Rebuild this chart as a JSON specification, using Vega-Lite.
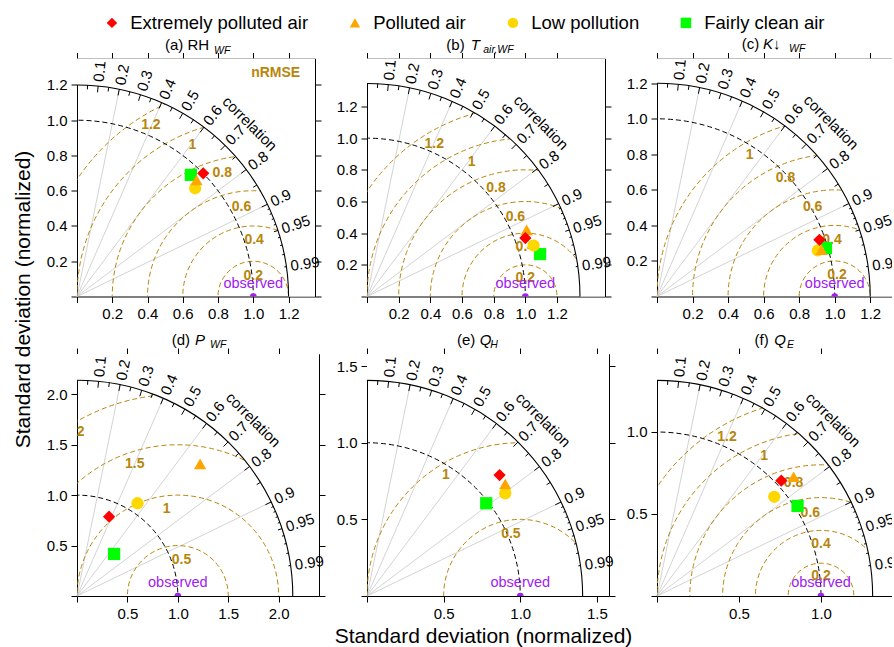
{
"$schema": "https://vega.github.io/schema/vega-lite/v6.json",
"padding": {"left": 11, "top": 13.5, "right": 0, "bottom": 0},
"datasets": {
"rays": [{"x0":0,"y0":0,"x1":0.2,"y1":0.9798},{"x0":0,"y0":0,"x1":0.4,"y1":0.9165},{"x0":0,"y0":0,"x1":0.6,"y1":0.8},{"x0":0,"y0":0,"x1":0.8,"y1":0.6},{"x0":0,"y0":0,"x1":0.9,"y1":0.4359}],
"ticks": [
{"x0":0.097,"y0":0.9651,"x1":0.1,"y1":0.995},{"x0":0.194,"y0":0.9504,"x1":0.2,"y1":0.9798},{"x0":0.291,"y0":0.9253,"x1":0.3,"y1":0.9539},{"x0":0.388,"y0":0.889,"x1":0.4,"y1":0.9165},{"x0":0.485,"y0":0.84,"x1":0.5,"y1":0.866},{"x0":0.582,"y0":0.776,"x1":0.6,"y1":0.8},{"x0":0.679,"y0":0.6927,"x1":0.7,"y1":0.7141},{"x0":0.776,"y0":0.582,"x1":0.8,"y1":0.6},{"x0":0.873,"y0":0.4228,"x1":0.9,"y1":0.4359},
{"x0":0.049,"y0":0.9788,"x1":0.05,"y1":0.9988},{"x0":0.147,"y0":0.9689,"x1":0.15,"y1":0.9887},{"x0":0.245,"y0":0.9489,"x1":0.25,"y1":0.9682},{"x0":0.343,"y0":0.918,"x1":0.35,"y1":0.9368},{"x0":0.441,"y0":0.8752,"x1":0.45,"y1":0.893},{"x0":0.539,"y0":0.8185,"x1":0.55,"y1":0.8352},{"x0":0.637,"y0":0.7447,"x1":0.65,"y1":0.7599},{"x0":0.735,"y0":0.6482,"x1":0.75,"y1":0.6614},{"x0":0.833,"y0":0.5162,"x1":0.85,"y1":0.5268},{"x0":0.931,"y0":0.306,"x1":0.95,"y1":0.3122},
{"x0":0.9009,"y0":0.4105,"x1":0.91,"y1":0.4146},{"x0":0.9108,"y0":0.388,"x1":0.92,"y1":0.3919},{"x0":0.9207,"y0":0.3639,"x1":0.93,"y1":0.3676},{"x0":0.9306,"y0":0.3378,"x1":0.94,"y1":0.3412},{"x0":0.9504,"y0":0.2772,"x1":0.96,"y1":0.28},{"x0":0.9603,"y0":0.2407,"x1":0.97,"y1":0.2431},{"x0":0.9702,"y0":0.197,"x1":0.98,"y1":0.199},{"x0":0.9801,"y0":0.1397,"x1":0.99,"y1":0.1411}
],
"clabs": [
{"x":0.102,"y":1.0149,"phi":84.26,"t":"0.1"},{"x":0.204,"y":0.9994,"phi":78.46,"t":"0.2"},{"x":0.306,"y":0.973,"phi":72.54,"t":"0.3"},{"x":0.408,"y":0.9349,"phi":66.42,"t":"0.4"},{"x":0.51,"y":0.8833,"phi":60,"t":"0.5"},{"x":0.612,"y":0.816,"phi":53.13,"t":"0.6"},{"x":0.714,"y":0.7284,"phi":45.57,"t":"0.7"},{"x":0.816,"y":0.612,"phi":36.87,"t":"0.8"},{"x":0.918,"y":0.4446,"phi":25.84,"t":"0.9"},{"x":0.969,"y":0.3185,"phi":18.19,"t":"0.95"},{"x":1.0098,"y":0.1439,"phi":8.11,"t":"0.99"}
],
"corr": [{"x":0.8167,"y":0.8167,"t":"correlation"}],
"bnd": [{"p":"a","M":1.2,"Mm":3.1853},{"p":"b","M":1.345,"Mm":3.5553},{"p":"c","M":1.2,"Mm":3.1697},{"p":"d","M":2.14,"Mm":5.6111},{"p":"e","M":1.407,"Mm":3.6907},{"p":"f","M":1.315,"Mm":3.4491}],
"circ": [
{"p":"a","rho":0.2},{"p":"a","rho":0.4},{"p":"a","rho":0.6},{"p":"a","rho":0.8},{"p":"a","rho":1.0},{"p":"a","rho":1.2},
{"p":"b","rho":0.2},{"p":"b","rho":0.4},{"p":"b","rho":0.6},{"p":"b","rho":0.8},{"p":"b","rho":1.0},{"p":"b","rho":1.2},
{"p":"c","rho":0.2},{"p":"c","rho":0.4},{"p":"c","rho":0.6},{"p":"c","rho":0.8},{"p":"c","rho":1.0},
{"p":"d","rho":0.5},{"p":"d","rho":1.0},{"p":"d","rho":1.5},{"p":"d","rho":2.0},
{"p":"e","rho":0.5},{"p":"e","rho":1.0},
{"p":"f","rho":0.2},{"p":"f","rho":0.4},{"p":"f","rho":0.6},{"p":"f","rho":0.8},{"p":"f","rho":1.0},{"p":"f","rho":1.2}
],
"nlab": [
{"p":"a","lab":"nRMSE","x":1.127,"y":1.269},
{"p":"a","lab":"1.2","x":0.419,"y":0.973},{"p":"a","lab":"1","x":0.655,"y":0.859},{"p":"a","lab":"0.8","x":0.824,"y":0.70},{"p":"a","lab":"0.6","x":0.933,"y":0.51},{"p":"a","lab":"0.4","x":1.005,"y":0.321},{"p":"a","lab":"0.2","x":1.0,"y":0.117},
{"p":"b","lab":"1.2","x":0.425,"y":0.965},{"p":"b","lab":"1","x":0.661,"y":0.849},{"p":"b","lab":"0.8","x":0.815,"y":0.685},{"p":"b","lab":"0.6","x":0.937,"y":0.502},{"p":"b","lab":"0.4","x":1.0,"y":0.31},{"p":"b","lab":"0.2","x":1.0,"y":0.116},
{"p":"c","lab":"1","x":0.522,"y":0.797},{"p":"c","lab":"0.8","x":0.723,"y":0.666},{"p":"c","lab":"0.6","x":0.876,"y":0.503},{"p":"c","lab":"0.4","x":0.985,"y":0.319},{"p":"c","lab":"0.2","x":1.013,"y":0.122},
{"p":"d","lab":"0.5","x":1.037,"y":0.357},{"p":"d","lab":"1","x":0.888,"y":0.863},{"p":"d","lab":"1.5","x":0.573,"y":1.31},{"p":"d","lab":"2","x":0.037,"y":1.624},
{"p":"e","lab":"0.5","x":0.939,"y":0.402},{"p":"e","lab":"1","x":0.515,"y":0.789},
{"p":"f","lab":"1.2","x":0.427,"y":0.968},{"p":"f","lab":"1","x":0.654,"y":0.854},{"p":"f","lab":"0.8","x":0.833,"y":0.687},{"p":"f","lab":"0.6","x":0.935,"y":0.508},{"p":"f","lab":"0.4","x":1.0,"y":0.317},{"p":"f","lab":"0.2","x":1.0,"y":0.122}
],
"pts": [
{"p":"a","c":"Fairly clean air","x":0.646,"y":0.690},{"p":"a","c":"Low pollution","x":0.670,"y":0.614},{"p":"a","c":"Polluted air","x":0.678,"y":0.661},{"p":"a","c":"Extremely polluted air","x":0.716,"y":0.699},
{"p":"b","c":"Fairly clean air","x":1.093,"y":0.268},{"p":"b","c":"Low pollution","x":1.052,"y":0.322},{"p":"b","c":"Polluted air","x":1.008,"y":0.421},{"p":"b","c":"Extremely polluted air","x":1.0,"y":0.369},
{"p":"c","c":"Fairly clean air","x":0.951,"y":0.272},{"p":"c","c":"Low pollution","x":0.905,"y":0.259},{"p":"c","c":"Polluted air","x":0.925,"y":0.263},{"p":"c","c":"Extremely polluted air","x":0.914,"y":0.319},
{"p":"d","c":"Fairly clean air","x":0.368,"y":0.417},{"p":"d","c":"Low pollution","x":0.600,"y":0.920},{"p":"d","c":"Polluted air","x":1.221,"y":1.310},{"p":"d","c":"Extremely polluted air","x":0.318,"y":0.787},
{"p":"e","c":"Fairly clean air","x":0.778,"y":0.605},{"p":"e","c":"Low pollution","x":0.902,"y":0.670},{"p":"e","c":"Polluted air","x":0.902,"y":0.731},{"p":"e","c":"Extremely polluted air","x":0.865,"y":0.789},
{"p":"f","c":"Fairly clean air","x":0.857,"y":0.549},{"p":"f","c":"Low pollution","x":0.715,"y":0.605},{"p":"f","c":"Polluted air","x":0.833,"y":0.727},{"p":"f","c":"Extremely polluted air","x":0.758,"y":0.703}
],
"titles": [
{"p":"a","part":"pre","t":"(a) RH","x":0.499,"y":1.401},
{"p":"a","part":"sub","t":"WF","x":0.777,"y":1.375},
{"p":"b","part":"pre","t":"(b)","x":0.501,"y":1.557},
{"p":"b","part":"sym","t":"T","x":0.655,"y":1.557},
{"p":"b","part":"sub","t":"air,WF","x":0.734,"y":1.535},
{"p":"c","part":"pre","t":"(c)","x":0.477,"y":1.390},
{"p":"c","part":"sym","t":"K↓","x":0.597,"y":1.390},
{"p":"c","part":"sub","t":"WF","x":0.743,"y":1.373},
{"p":"d","part":"pre","t":"(d)","x":0.939,"y":2.490},
{"p":"d","part":"sym","t":"P","x":1.171,"y":2.490},
{"p":"d","part":"sub","t":"WF","x":1.319,"y":2.460},
{"p":"e","part":"pre","t":"(e)","x":0.587,"y":1.637},
{"p":"e","part":"sym","t":"Q","x":0.735,"y":1.637},
{"p":"e","part":"sub","t":"H","x":0.804,"y":1.618},
{"p":"f","part":"pre","t":"(f)","x":0.595,"y":1.530},
{"p":"f","part":"sym","t":"Q","x":0.715,"y":1.530},
{"p":"f","part":"sub","t":"E","x":0.793,"y":1.512}
]
},
"concat": [
{"width": 238, "height": 238,
 "resolve": {"scale": {"x": "independent", "y": "independent"}, "axis": {"x": "independent", "y": "independent"}},
 "layer": [
  {"data": {"name": "rays"}, "mark": {"type": "rule", "color": "#c8c8c8", "strokeWidth": 0.8},
   "encoding": {"x": {"field": "x0", "type": "quantitative", "scale": {"domain": [0, 1.125], "nice": false, "zero": false}, "axis": null},
    "y": {"field": "y0", "type": "quantitative", "scale": {"domain": [0, 1.125], "nice": false, "zero": false}, "axis": null},
    "x2": {"field": "x1"}, "y2": {"field": "y1"}}},
  {"data": {"name": "circ"}, "transform": [{"filter": "datum.p == 'a'"}], "mark": {"type": "point", "shape": "circle", "filled": false, "color": "#B8860B", "strokeWidth": 1, "strokeDash": [5, 3], "opacity": 1, "clip": true},
   "encoding": {"x": {"datum": 1, "type": "quantitative", "scale": {"domain": [0, 1.35], "nice": false, "zero": false}, "axis": null},
    "y": {"datum": 0, "type": "quantitative", "scale": {"domain": [0, 1.35], "nice": false, "zero": false}, "axis": null},
    "size": {"field": "rho", "type": "quantitative", "scale": {"type": "pow", "exponent": 2, "domain": [0, 1.35], "range": [0, 226576]}, "legend": null}}},
  {"data": {"values": [{"rho": 1}]}, "mark": {"type": "point", "shape": "circle", "filled": false, "color": "black", "strokeWidth": 1, "strokeDash": [5, 3], "opacity": 1, "clip": true},
   "encoding": {"x": {"datum": 0, "type": "quantitative", "scale": {"domain": [0, 1.35], "nice": false, "zero": false}, "axis": null},
    "y": {"datum": 0, "type": "quantitative", "scale": {"domain": [0, 1.35], "nice": false, "zero": false}, "axis": null},
    "size": {"field": "rho", "type": "quantitative", "legend": null}}},
  {"data": {"name": "bnd"}, "transform": [{"filter": "datum.p == 'a'"}], "mark": {"type": "point", "shape": "circle", "filled": false, "color": "white", "strokeWidth": 700, "opacity": 1, "clip": true},
   "encoding": {"x": {"datum": 0, "type": "quantitative", "scale": {"domain": [0, 1.35], "nice": false, "zero": false}, "axis": null},
    "y": {"datum": 0, "type": "quantitative", "scale": {"domain": [0, 1.35], "nice": false, "zero": false}, "axis": null},
    "size": {"field": "Mm", "type": "quantitative", "legend": null}}},
  {"data": {"name": "bnd"}, "transform": [{"filter": "datum.p == 'a'"}], "mark": {"type": "point", "shape": "circle", "filled": false, "color": "black", "strokeWidth": 1.1, "opacity": 1, "clip": true},
   "encoding": {"x": {"datum": 0, "type": "quantitative", "scale": {"domain": [0, 1.35], "nice": false, "zero": false}, "axis": null},
    "y": {"datum": 0, "type": "quantitative", "scale": {"domain": [0, 1.35], "nice": false, "zero": false}, "axis": null},
    "size": {"field": "M", "type": "quantitative", "legend": null}}},
  {"data": {"name": "ticks"}, "mark": {"type": "rule", "color": "black", "strokeWidth": 1},
   "encoding": {"x": {"field": "x0", "type": "quantitative", "scale": {"domain": [0, 1.125], "nice": false, "zero": false}, "axis": null},
    "y": {"field": "y0", "type": "quantitative", "scale": {"domain": [0, 1.125], "nice": false, "zero": false}, "axis": null},
    "x2": {"field": "x1"}, "y2": {"field": "y1"}}},
  {"data": {"name": "clabs"}, "mark": {"type": "text", "align": "left", "baseline": "middle", "fontSize": 15, "color": "black"},
   "encoding": {"x": {"field": "x", "type": "quantitative", "scale": {"domain": [0, 1.125], "nice": false, "zero": false}, "axis": null},
    "y": {"field": "y", "type": "quantitative", "scale": {"domain": [0, 1.125], "nice": false, "zero": false}, "axis": null},
    "angle": {"field": "phi", "type": "quantitative", "scale": {"domain": [0, 90], "range": [0, -90]}},
    "text": {"field": "t"}}},
  {"data": {"name": "corr"}, "mark": {"type": "text", "align": "center", "baseline": "middle", "fontSize": 15, "angle": 45, "color": "black"},
   "encoding": {"x": {"field": "x", "type": "quantitative", "scale": {"domain": [0, 1.125], "nice": false, "zero": false}, "axis": null},
    "y": {"field": "y", "type": "quantitative", "scale": {"domain": [0, 1.125], "nice": false, "zero": false}, "axis": null},
    "text": {"field": "t"}}},
  {"data": {"name": "nlab"}, "transform": [{"filter": "datum.p == 'a'"}], "mark": {"type": "text", "align": "center", "baseline": "middle", "fontSize": 14, "fontWeight": "bold", "color": "#B8860B"},
   "encoding": {"x": {"field": "x", "type": "quantitative", "scale": {"domain": [0, 1.35], "nice": false, "zero": false}, "axis": null},
    "y": {"field": "y", "type": "quantitative", "scale": {"domain": [0, 1.35], "nice": false, "zero": false}, "axis": null}, "text": {"field": "lab"}}},
  {"data": {"values": [{"t": "observed"}]}, "mark": {"type": "circle", "color": "#A020F0", "size": 45, "opacity": 1, "clip": true},
   "encoding": {"x": {"datum": 1, "type": "quantitative", "scale": {"domain": [0, 1.35], "nice": false, "zero": false}, "axis": null},
    "y": {"datum": 0, "type": "quantitative", "scale": {"domain": [0, 1.35], "nice": false, "zero": false}, "axis": null}}},
  {"data": {"values": [{"t": "observed"}]}, "mark": {"type": "text", "color": "#A020F0", "fontSize": 14.5, "dy": -13, "align": "center", "baseline": "middle"},
   "encoding": {"x": {"datum": 1, "type": "quantitative", "scale": {"domain": [0, 1.35], "nice": false, "zero": false}, "axis": null},
    "y": {"datum": 0, "type": "quantitative", "scale": {"domain": [0, 1.35], "nice": false, "zero": false}, "axis": null}, "text": {"field": "t"}}},
  {"data": {"name": "pts"}, "transform": [{"filter": "datum.p == 'a'"}], "mark": {"type": "point", "filled": true, "size": 150, "opacity": 1, "strokeWidth": 0},
   "encoding": {"x": {"field": "x", "type": "quantitative", "scale": {"domain": [0, 1.35], "nice": false, "zero": false}, "axis": {"orient": "bottom", "title": null, "values": [0,0.2,0.4,0.6,0.8,1,1.2], "labelExpr": "datum.value == 0 ? '' : format(datum.value, '.1f')"}},
    "y": {"field": "y", "type": "quantitative", "scale": {"domain": [0, 1.35], "nice": false, "zero": false}, "axis": {"orient": "left", "title": null, "values": [0,0.2,0.4,0.6,0.8,1,1.2], "labelExpr": "datum.value == 0 ? '' : format(datum.value, '.1f')"}},
    "color": {"field": "c", "type": "nominal", "scale": {"domain": ["Extremely polluted air", "Polluted air", "Low pollution", "Fairly clean air"], "range": ["#FF0000", "#FFA500", "#FFD700", "#00FF00"]},
      "legend": {"orient": "none", "legendX": 25.7, "legendY": -45, "direction": "horizontal", "title": null, "columnPadding": 37, "labelFontSize": 18.5, "labelFont": "Liberation Sans", "labelColor": "black", "labelLimit": 400, "symbolSize": 110, "symbolStrokeWidth": 0, "labelOffset": 9, "padding": 0,
        "labelExpr": "datum.label == 'Extremely polluted air' ? datum.label + '         ' : (datum.label == 'Low pollution' ? datum.label + ' ' : datum.label)"}},
    "shape": {"field": "c", "type": "nominal", "scale": {"domain": ["Extremely polluted air", "Polluted air", "Low pollution", "Fairly clean air"], "range": ["diamond", "triangle-up", "circle", "square"]},
      "legend": {"orient": "none", "legendX": 25.7, "legendY": -45, "direction": "horizontal", "title": null, "columnPadding": 37, "labelFontSize": 18.5, "labelFont": "Liberation Sans", "labelColor": "black", "labelLimit": 400, "symbolSize": 110, "symbolStrokeWidth": 0, "labelOffset": 9, "padding": 0,
        "labelExpr": "datum.label == 'Extremely polluted air' ? datum.label + '         ' : (datum.label == 'Low pollution' ? datum.label + ' ' : datum.label)"}}}},
  {"data": {"name": "titles"}, "transform": [{"filter": "datum.p == 'a' && datum.part == 'pre'"}], "mark": {"type": "text", "align": "left", "baseline": "alphabetic", "fontSize": 15, "color": "black"},
   "encoding": {"x": {"field": "x", "type": "quantitative", "scale": {"domain": [0, 1.35], "nice": false, "zero": false}, "axis": {"orient": "top", "labels": false, "title": null, "values": [0,0.2,0.4,0.6,0.8,1,1.2]}},
    "y": {"field": "y", "type": "quantitative", "scale": {"domain": [0, 1.35], "nice": false, "zero": false}, "axis": {"orient": "right", "labels": false, "title": null, "values": [0,0.2,0.4,0.6,0.8,1,1.2]}}, "text": {"field": "t"}}},
  {"data": {"name": "titles"}, "transform": [{"filter": "datum.p == 'a' && datum.part == 'sub'"}], "mark": {"type": "text", "align": "left", "baseline": "alphabetic", "fontSize": 10.5, "fontStyle": "italic", "color": "black"},
   "encoding": {"x": {"field": "x", "type": "quantitative", "scale": {"domain": [0, 1.35], "nice": false, "zero": false}, "axis": null},
    "y": {"field": "y", "type": "quantitative", "scale": {"domain": [0, 1.35], "nice": false, "zero": false}, "axis": null}, "text": {"field": "t"}}}
 ]},
{"width": 238, "height": 238,
 "resolve": {"scale": {"x": "independent", "y": "independent"}, "axis": {"x": "independent", "y": "independent"}},
 "layer": [
  {"data": {"name": "rays"}, "mark": {"type": "rule", "color": "#c8c8c8", "strokeWidth": 0.8},
   "encoding": {"x": {"field": "x0", "type": "quantitative", "scale": {"domain": [0, 1.1175], "nice": false, "zero": false}, "axis": null},
    "y": {"field": "y0", "type": "quantitative", "scale": {"domain": [0, 1.1175], "nice": false, "zero": false}, "axis": null},
    "x2": {"field": "x1"}, "y2": {"field": "y1"}}},
  {"data": {"name": "circ"}, "transform": [{"filter": "datum.p == 'b'"}], "mark": {"type": "point", "shape": "circle", "filled": false, "color": "#B8860B", "strokeWidth": 1, "strokeDash": [5, 3], "opacity": 1, "clip": true},
   "encoding": {"x": {"datum": 1, "type": "quantitative", "scale": {"domain": [0, 1.503], "nice": false, "zero": false}, "axis": null},
    "y": {"datum": 0, "type": "quantitative", "scale": {"domain": [0, 1.503], "nice": false, "zero": false}, "axis": null},
    "size": {"field": "rho", "type": "quantitative", "scale": {"type": "pow", "exponent": 2, "domain": [0, 1.503], "range": [0, 226576]}, "legend": null}}},
  {"data": {"values": [{"rho": 1}]}, "mark": {"type": "point", "shape": "circle", "filled": false, "color": "black", "strokeWidth": 1, "strokeDash": [5, 3], "opacity": 1, "clip": true},
   "encoding": {"x": {"datum": 0, "type": "quantitative", "scale": {"domain": [0, 1.503], "nice": false, "zero": false}, "axis": null},
    "y": {"datum": 0, "type": "quantitative", "scale": {"domain": [0, 1.503], "nice": false, "zero": false}, "axis": null},
    "size": {"field": "rho", "type": "quantitative", "legend": null}}},
  {"data": {"name": "bnd"}, "transform": [{"filter": "datum.p == 'b'"}], "mark": {"type": "point", "shape": "circle", "filled": false, "color": "white", "strokeWidth": 700, "opacity": 1, "clip": true},
   "encoding": {"x": {"datum": 0, "type": "quantitative", "scale": {"domain": [0, 1.503], "nice": false, "zero": false}, "axis": null},
    "y": {"datum": 0, "type": "quantitative", "scale": {"domain": [0, 1.503], "nice": false, "zero": false}, "axis": null},
    "size": {"field": "Mm", "type": "quantitative", "legend": null}}},
  {"data": {"name": "bnd"}, "transform": [{"filter": "datum.p == 'b'"}], "mark": {"type": "point", "shape": "circle", "filled": false, "color": "black", "strokeWidth": 1.1, "opacity": 1, "clip": true},
   "encoding": {"x": {"datum": 0, "type": "quantitative", "scale": {"domain": [0, 1.503], "nice": false, "zero": false}, "axis": null},
    "y": {"datum": 0, "type": "quantitative", "scale": {"domain": [0, 1.503], "nice": false, "zero": false}, "axis": null},
    "size": {"field": "M", "type": "quantitative", "legend": null}}},
  {"data": {"name": "ticks"}, "mark": {"type": "rule", "color": "black", "strokeWidth": 1},
   "encoding": {"x": {"field": "x0", "type": "quantitative", "scale": {"domain": [0, 1.1175], "nice": false, "zero": false}, "axis": null},
    "y": {"field": "y0", "type": "quantitative", "scale": {"domain": [0, 1.1175], "nice": false, "zero": false}, "axis": null},
    "x2": {"field": "x1"}, "y2": {"field": "y1"}}},
  {"data": {"name": "clabs"}, "mark": {"type": "text", "align": "left", "baseline": "middle", "fontSize": 15, "color": "black"},
   "encoding": {"x": {"field": "x", "type": "quantitative", "scale": {"domain": [0, 1.1175], "nice": false, "zero": false}, "axis": null},
    "y": {"field": "y", "type": "quantitative", "scale": {"domain": [0, 1.1175], "nice": false, "zero": false}, "axis": null},
    "angle": {"field": "phi", "type": "quantitative", "scale": {"domain": [0, 90], "range": [0, -90]}},
    "text": {"field": "t"}}},
  {"data": {"name": "corr"}, "mark": {"type": "text", "align": "center", "baseline": "middle", "fontSize": 15, "angle": 45, "color": "black"},
   "encoding": {"x": {"field": "x", "type": "quantitative", "scale": {"domain": [0, 1.1175], "nice": false, "zero": false}, "axis": null},
    "y": {"field": "y", "type": "quantitative", "scale": {"domain": [0, 1.1175], "nice": false, "zero": false}, "axis": null},
    "text": {"field": "t"}}},
  {"data": {"name": "nlab"}, "transform": [{"filter": "datum.p == 'b'"}], "mark": {"type": "text", "align": "center", "baseline": "middle", "fontSize": 14, "fontWeight": "bold", "color": "#B8860B"},
   "encoding": {"x": {"field": "x", "type": "quantitative", "scale": {"domain": [0, 1.503], "nice": false, "zero": false}, "axis": null},
    "y": {"field": "y", "type": "quantitative", "scale": {"domain": [0, 1.503], "nice": false, "zero": false}, "axis": null}, "text": {"field": "lab"}}},
  {"data": {"values": [{"t": "observed"}]}, "mark": {"type": "circle", "color": "#A020F0", "size": 45, "opacity": 1, "clip": true},
   "encoding": {"x": {"datum": 1, "type": "quantitative", "scale": {"domain": [0, 1.503], "nice": false, "zero": false}, "axis": null},
    "y": {"datum": 0, "type": "quantitative", "scale": {"domain": [0, 1.503], "nice": false, "zero": false}, "axis": null}}},
  {"data": {"values": [{"t": "observed"}]}, "mark": {"type": "text", "color": "#A020F0", "fontSize": 14.5, "dy": -13, "align": "center", "baseline": "middle"},
   "encoding": {"x": {"datum": 1, "type": "quantitative", "scale": {"domain": [0, 1.503], "nice": false, "zero": false}, "axis": null},
    "y": {"datum": 0, "type": "quantitative", "scale": {"domain": [0, 1.503], "nice": false, "zero": false}, "axis": null}, "text": {"field": "t"}}},
  {"data": {"name": "pts"}, "transform": [{"filter": "datum.p == 'b'"}], "mark": {"type": "point", "filled": true, "size": 150, "opacity": 1, "strokeWidth": 0},
   "encoding": {"x": {"field": "x", "type": "quantitative", "scale": {"domain": [0, 1.503], "nice": false, "zero": false}, "axis": {"orient": "bottom", "title": null, "values": [0,0.2,0.4,0.6,0.8,1,1.2], "labelExpr": "datum.value == 0 ? '' : format(datum.value, '.1f')"}},
    "y": {"field": "y", "type": "quantitative", "scale": {"domain": [0, 1.503], "nice": false, "zero": false}, "axis": {"orient": "left", "title": null, "values": [0,0.2,0.4,0.6,0.8,1,1.2], "labelExpr": "datum.value == 0 ? '' : format(datum.value, '.1f')"}},
    "color": {"field": "c", "type": "nominal", "scale": {"domain": ["Extremely polluted air", "Polluted air", "Low pollution", "Fairly clean air"], "range": ["#FF0000", "#FFA500", "#FFD700", "#00FF00"]}, "legend": null},
    "shape": {"field": "c", "type": "nominal", "scale": {"domain": ["Extremely polluted air", "Polluted air", "Low pollution", "Fairly clean air"], "range": ["diamond", "triangle-up", "circle", "square"]}, "legend": null}}},
  {"data": {"name": "titles"}, "transform": [{"filter": "datum.p == 'b' && datum.part == 'pre'"}], "mark": {"type": "text", "align": "left", "baseline": "alphabetic", "fontSize": 15, "color": "black"},
   "encoding": {"x": {"field": "x", "type": "quantitative", "scale": {"domain": [0, 1.503], "nice": false, "zero": false}, "axis": {"orient": "top", "labels": false, "title": null, "values": [0,0.2,0.4,0.6,0.8,1,1.2]}},
    "y": {"field": "y", "type": "quantitative", "scale": {"domain": [0, 1.503], "nice": false, "zero": false}, "axis": {"orient": "right", "labels": false, "title": null, "values": [0,0.2,0.4,0.6,0.8,1,1.2]}}, "text": {"field": "t"}}},
  {"data": {"name": "titles"}, "transform": [{"filter": "datum.p == 'b' && datum.part == 'sym'"}], "mark": {"type": "text", "align": "left", "baseline": "alphabetic", "fontSize": 15, "fontStyle": "italic", "color": "black"},
   "encoding": {"x": {"field": "x", "type": "quantitative", "scale": {"domain": [0, 1.503], "nice": false, "zero": false}, "axis": null},
    "y": {"field": "y", "type": "quantitative", "scale": {"domain": [0, 1.503], "nice": false, "zero": false}, "axis": null}, "text": {"field": "t"}}},
  {"data": {"name": "titles"}, "transform": [{"filter": "datum.p == 'b' && datum.part == 'sub'"}], "mark": {"type": "text", "align": "left", "baseline": "alphabetic", "fontSize": 10.5, "fontStyle": "italic", "color": "black"},
   "encoding": {"x": {"field": "x", "type": "quantitative", "scale": {"domain": [0, 1.503], "nice": false, "zero": false}, "axis": null},
    "y": {"field": "y", "type": "quantitative", "scale": {"domain": [0, 1.503], "nice": false, "zero": false}, "axis": null}, "text": {"field": "t"}}}
 ]},
{"width": 235, "height": 238,
 "resolve": {"scale": {"x": "independent", "y": "independent"}, "axis": {"x": "independent", "y": "independent"}},
 "layer": [
  {"data": {"name": "rays"}, "mark": {"type": "rule", "color": "#c8c8c8", "strokeWidth": 0.8},
   "encoding": {"x": {"field": "x0", "type": "quantitative", "scale": {"domain": [0, 1.1021], "nice": false, "zero": false}, "axis": null},
    "y": {"field": "y0", "type": "quantitative", "scale": {"domain": [0, 1.1158], "nice": false, "zero": false}, "axis": null},
    "x2": {"field": "x1"}, "y2": {"field": "y1"}}},
  {"data": {"name": "circ"}, "transform": [{"filter": "datum.p == 'c'"}], "mark": {"type": "point", "shape": "circle", "filled": false, "color": "#B8860B", "strokeWidth": 1, "strokeDash": [5, 3], "opacity": 1, "clip": true},
   "encoding": {"x": {"datum": 1, "type": "quantitative", "scale": {"domain": [0, 1.3225], "nice": false, "zero": false}, "axis": null},
    "y": {"datum": 0, "type": "quantitative", "scale": {"domain": [0, 1.339], "nice": false, "zero": false}, "axis": null},
    "size": {"field": "rho", "type": "quantitative", "scale": {"type": "pow", "exponent": 2, "domain": [0, 1.3225], "range": [0, 220900]}, "legend": null}}},
  {"data": {"values": [{"rho": 1}]}, "mark": {"type": "point", "shape": "circle", "filled": false, "color": "black", "strokeWidth": 1, "strokeDash": [5, 3], "opacity": 1, "clip": true},
   "encoding": {"x": {"datum": 0, "type": "quantitative", "scale": {"domain": [0, 1.3225], "nice": false, "zero": false}, "axis": null},
    "y": {"datum": 0, "type": "quantitative", "scale": {"domain": [0, 1.339], "nice": false, "zero": false}, "axis": null},
    "size": {"field": "rho", "type": "quantitative", "legend": null}}},
  {"data": {"name": "bnd"}, "transform": [{"filter": "datum.p == 'c'"}], "mark": {"type": "point", "shape": "circle", "filled": false, "color": "white", "strokeWidth": 700, "opacity": 1, "clip": true},
   "encoding": {"x": {"datum": 0, "type": "quantitative", "scale": {"domain": [0, 1.3225], "nice": false, "zero": false}, "axis": null},
    "y": {"datum": 0, "type": "quantitative", "scale": {"domain": [0, 1.339], "nice": false, "zero": false}, "axis": null},
    "size": {"field": "Mm", "type": "quantitative", "legend": null}}},
  {"data": {"name": "bnd"}, "transform": [{"filter": "datum.p == 'c'"}], "mark": {"type": "point", "shape": "circle", "filled": false, "color": "black", "strokeWidth": 1.1, "opacity": 1, "clip": true},
   "encoding": {"x": {"datum": 0, "type": "quantitative", "scale": {"domain": [0, 1.3225], "nice": false, "zero": false}, "axis": null},
    "y": {"datum": 0, "type": "quantitative", "scale": {"domain": [0, 1.339], "nice": false, "zero": false}, "axis": null},
    "size": {"field": "M", "type": "quantitative", "legend": null}}},
  {"data": {"name": "ticks"}, "mark": {"type": "rule", "color": "black", "strokeWidth": 1},
   "encoding": {"x": {"field": "x0", "type": "quantitative", "scale": {"domain": [0, 1.1021], "nice": false, "zero": false}, "axis": null},
    "y": {"field": "y0", "type": "quantitative", "scale": {"domain": [0, 1.1158], "nice": false, "zero": false}, "axis": null},
    "x2": {"field": "x1"}, "y2": {"field": "y1"}}},
  {"data": {"name": "clabs"}, "mark": {"type": "text", "align": "left", "baseline": "middle", "fontSize": 15, "color": "black", "clip": true},
   "encoding": {"x": {"field": "x", "type": "quantitative", "scale": {"domain": [0, 1.1021], "nice": false, "zero": false}, "axis": null},
    "y": {"field": "y", "type": "quantitative", "scale": {"domain": [0, 1.1158], "nice": false, "zero": false}, "axis": null},
    "angle": {"field": "phi", "type": "quantitative", "scale": {"domain": [0, 90], "range": [0, -90]}},
    "text": {"field": "t"}}},
  {"data": {"name": "corr"}, "mark": {"type": "text", "align": "center", "baseline": "middle", "fontSize": 15, "angle": 45, "color": "black"},
   "encoding": {"x": {"field": "x", "type": "quantitative", "scale": {"domain": [0, 1.1021], "nice": false, "zero": false}, "axis": null},
    "y": {"field": "y", "type": "quantitative", "scale": {"domain": [0, 1.1158], "nice": false, "zero": false}, "axis": null},
    "text": {"field": "t"}}},
  {"data": {"name": "nlab"}, "transform": [{"filter": "datum.p == 'c'"}], "mark": {"type": "text", "align": "center", "baseline": "middle", "fontSize": 14, "fontWeight": "bold", "color": "#B8860B"},
   "encoding": {"x": {"field": "x", "type": "quantitative", "scale": {"domain": [0, 1.3225], "nice": false, "zero": false}, "axis": null},
    "y": {"field": "y", "type": "quantitative", "scale": {"domain": [0, 1.339], "nice": false, "zero": false}, "axis": null}, "text": {"field": "lab"}}},
  {"data": {"values": [{"t": "observed"}]}, "mark": {"type": "circle", "color": "#A020F0", "size": 45, "opacity": 1, "clip": true},
   "encoding": {"x": {"datum": 1, "type": "quantitative", "scale": {"domain": [0, 1.3225], "nice": false, "zero": false}, "axis": null},
    "y": {"datum": 0, "type": "quantitative", "scale": {"domain": [0, 1.339], "nice": false, "zero": false}, "axis": null}}},
  {"data": {"values": [{"t": "observed"}]}, "mark": {"type": "text", "color": "#A020F0", "fontSize": 14.5, "dy": -13, "align": "center", "baseline": "middle"},
   "encoding": {"x": {"datum": 1, "type": "quantitative", "scale": {"domain": [0, 1.3225], "nice": false, "zero": false}, "axis": null},
    "y": {"datum": 0, "type": "quantitative", "scale": {"domain": [0, 1.339], "nice": false, "zero": false}, "axis": null}, "text": {"field": "t"}}},
  {"data": {"name": "pts"}, "transform": [{"filter": "datum.p == 'c'"}], "mark": {"type": "point", "filled": true, "size": 150, "opacity": 1, "strokeWidth": 0},
   "encoding": {"x": {"field": "x", "type": "quantitative", "scale": {"domain": [0, 1.3225], "nice": false, "zero": false}, "axis": {"orient": "bottom", "title": null, "values": [0,0.2,0.4,0.6,0.8,1,1.2], "labelExpr": "datum.value == 0 ? '' : format(datum.value, '.1f')"}},
    "y": {"field": "y", "type": "quantitative", "scale": {"domain": [0, 1.339], "nice": false, "zero": false}, "axis": {"orient": "left", "title": null, "values": [0,0.2,0.4,0.6,0.8,1,1.2], "labelExpr": "datum.value == 0 ? '' : format(datum.value, '.1f')"}},
    "color": {"field": "c", "type": "nominal", "scale": {"domain": ["Extremely polluted air", "Polluted air", "Low pollution", "Fairly clean air"], "range": ["#FF0000", "#FFA500", "#FFD700", "#00FF00"]}, "legend": null},
    "shape": {"field": "c", "type": "nominal", "scale": {"domain": ["Extremely polluted air", "Polluted air", "Low pollution", "Fairly clean air"], "range": ["diamond", "triangle-up", "circle", "square"]}, "legend": null}}},
  {"data": {"name": "titles"}, "transform": [{"filter": "datum.p == 'c' && datum.part == 'pre'"}], "mark": {"type": "text", "align": "left", "baseline": "alphabetic", "fontSize": 15, "color": "black"},
   "encoding": {"x": {"field": "x", "type": "quantitative", "scale": {"domain": [0, 1.3225], "nice": false, "zero": false}, "axis": {"orient": "top", "labels": false, "title": null, "values": [0,0.2,0.4,0.6,0.8,1,1.2]}},
    "y": {"field": "y", "type": "quantitative", "scale": {"domain": [0, 1.339], "nice": false, "zero": false}, "axis": null}, "text": {"field": "t"}}},
  {"data": {"name": "titles"}, "transform": [{"filter": "datum.p == 'c' && datum.part == 'sym'"}], "mark": {"type": "text", "align": "left", "baseline": "alphabetic", "fontSize": 15, "fontStyle": "italic", "color": "black"},
   "encoding": {"x": {"field": "x", "type": "quantitative", "scale": {"domain": [0, 1.3225], "nice": false, "zero": false}, "axis": null},
    "y": {"field": "y", "type": "quantitative", "scale": {"domain": [0, 1.339], "nice": false, "zero": false}, "axis": null}, "text": {"field": "t"}}},
  {"data": {"name": "titles"}, "transform": [{"filter": "datum.p == 'c' && datum.part == 'sub'"}], "mark": {"type": "text", "align": "left", "baseline": "alphabetic", "fontSize": 10.5, "fontStyle": "italic", "color": "black"},
   "encoding": {"x": {"field": "x", "type": "quantitative", "scale": {"domain": [0, 1.3225], "nice": false, "zero": false}, "axis": null},
    "y": {"field": "y", "type": "quantitative", "scale": {"domain": [0, 1.339], "nice": false, "zero": false}, "axis": null}, "text": {"field": "t"}}}
 ]},
{"width": 242, "height": 242,
 "resolve": {"scale": {"x": "independent", "y": "independent"}, "axis": {"x": "independent", "y": "independent"}},
 "layer": [
  {"data": {"name": "rays"}, "mark": {"type": "rule", "color": "#c8c8c8", "strokeWidth": 0.8},
   "encoding": {"x": {"field": "x0", "type": "quantitative", "scale": {"domain": [0, 1.1215], "nice": false, "zero": false}, "axis": null},
    "y": {"field": "y0", "type": "quantitative", "scale": {"domain": [0, 1.1215], "nice": false, "zero": false}, "axis": null},
    "x2": {"field": "x1"}, "y2": {"field": "y1"}}},
  {"data": {"name": "circ"}, "transform": [{"filter": "datum.p == 'd'"}], "mark": {"type": "point", "shape": "circle", "filled": false, "color": "#B8860B", "strokeWidth": 1, "strokeDash": [5, 3], "opacity": 1, "clip": true},
   "encoding": {"x": {"datum": 1, "type": "quantitative", "scale": {"domain": [0, 2.4], "nice": false, "zero": false}, "axis": null},
    "y": {"datum": 0, "type": "quantitative", "scale": {"domain": [0, 2.4], "nice": false, "zero": false}, "axis": null},
    "size": {"field": "rho", "type": "quantitative", "scale": {"type": "pow", "exponent": 2, "domain": [0, 2.4], "range": [0, 234256]}, "legend": null}}},
  {"data": {"values": [{"rho": 1}]}, "mark": {"type": "point", "shape": "circle", "filled": false, "color": "black", "strokeWidth": 1, "strokeDash": [5, 3], "opacity": 1, "clip": true},
   "encoding": {"x": {"datum": 0, "type": "quantitative", "scale": {"domain": [0, 2.4], "nice": false, "zero": false}, "axis": null},
    "y": {"datum": 0, "type": "quantitative", "scale": {"domain": [0, 2.4], "nice": false, "zero": false}, "axis": null},
    "size": {"field": "rho", "type": "quantitative", "legend": null}}},
  {"data": {"name": "bnd"}, "transform": [{"filter": "datum.p == 'd'"}], "mark": {"type": "point", "shape": "circle", "filled": false, "color": "white", "strokeWidth": 700, "opacity": 1, "clip": true},
   "encoding": {"x": {"datum": 0, "type": "quantitative", "scale": {"domain": [0, 2.4], "nice": false, "zero": false}, "axis": null},
    "y": {"datum": 0, "type": "quantitative", "scale": {"domain": [0, 2.4], "nice": false, "zero": false}, "axis": null},
    "size": {"field": "Mm", "type": "quantitative", "legend": null}}},
  {"data": {"name": "bnd"}, "transform": [{"filter": "datum.p == 'd'"}], "mark": {"type": "point", "shape": "circle", "filled": false, "color": "black", "strokeWidth": 1.1, "opacity": 1, "clip": true},
   "encoding": {"x": {"datum": 0, "type": "quantitative", "scale": {"domain": [0, 2.4], "nice": false, "zero": false}, "axis": null},
    "y": {"datum": 0, "type": "quantitative", "scale": {"domain": [0, 2.4], "nice": false, "zero": false}, "axis": null},
    "size": {"field": "M", "type": "quantitative", "legend": null}}},
  {"data": {"name": "ticks"}, "mark": {"type": "rule", "color": "black", "strokeWidth": 1},
   "encoding": {"x": {"field": "x0", "type": "quantitative", "scale": {"domain": [0, 1.1215], "nice": false, "zero": false}, "axis": null},
    "y": {"field": "y0", "type": "quantitative", "scale": {"domain": [0, 1.1215], "nice": false, "zero": false}, "axis": null},
    "x2": {"field": "x1"}, "y2": {"field": "y1"}}},
  {"data": {"name": "clabs"}, "mark": {"type": "text", "align": "left", "baseline": "middle", "fontSize": 15, "color": "black"},
   "encoding": {"x": {"field": "x", "type": "quantitative", "scale": {"domain": [0, 1.1215], "nice": false, "zero": false}, "axis": null},
    "y": {"field": "y", "type": "quantitative", "scale": {"domain": [0, 1.1215], "nice": false, "zero": false}, "axis": null},
    "angle": {"field": "phi", "type": "quantitative", "scale": {"domain": [0, 90], "range": [0, -90]}},
    "text": {"field": "t"}}},
  {"data": {"name": "corr"}, "mark": {"type": "text", "align": "center", "baseline": "middle", "fontSize": 15, "angle": 45, "color": "black"},
   "encoding": {"x": {"field": "x", "type": "quantitative", "scale": {"domain": [0, 1.1215], "nice": false, "zero": false}, "axis": null},
    "y": {"field": "y", "type": "quantitative", "scale": {"domain": [0, 1.1215], "nice": false, "zero": false}, "axis": null},
    "text": {"field": "t"}}},
  {"data": {"name": "nlab"}, "transform": [{"filter": "datum.p == 'd'"}], "mark": {"type": "text", "align": "center", "baseline": "middle", "fontSize": 14, "fontWeight": "bold", "color": "#B8860B"},
   "encoding": {"x": {"field": "x", "type": "quantitative", "scale": {"domain": [0, 2.4], "nice": false, "zero": false}, "axis": null},
    "y": {"field": "y", "type": "quantitative", "scale": {"domain": [0, 2.4], "nice": false, "zero": false}, "axis": null}, "text": {"field": "lab"}}},
  {"data": {"values": [{"t": "observed"}]}, "mark": {"type": "circle", "color": "#A020F0", "size": 45, "opacity": 1, "clip": true},
   "encoding": {"x": {"datum": 1, "type": "quantitative", "scale": {"domain": [0, 2.4], "nice": false, "zero": false}, "axis": null},
    "y": {"datum": 0, "type": "quantitative", "scale": {"domain": [0, 2.4], "nice": false, "zero": false}, "axis": null}}},
  {"data": {"values": [{"t": "observed"}]}, "mark": {"type": "text", "color": "#A020F0", "fontSize": 14.5, "dy": -13, "align": "center", "baseline": "middle"},
   "encoding": {"x": {"datum": 1, "type": "quantitative", "scale": {"domain": [0, 2.4], "nice": false, "zero": false}, "axis": null},
    "y": {"datum": 0, "type": "quantitative", "scale": {"domain": [0, 2.4], "nice": false, "zero": false}, "axis": null}, "text": {"field": "t"}}},
  {"data": {"name": "pts"}, "transform": [{"filter": "datum.p == 'd'"}], "mark": {"type": "point", "filled": true, "size": 150, "opacity": 1, "strokeWidth": 0},
   "encoding": {"x": {"field": "x", "type": "quantitative", "scale": {"domain": [0, 2.4], "nice": false, "zero": false}, "axis": {"orient": "bottom", "title": null, "values": [0,0.5,1,1.5,2], "labelExpr": "datum.value == 0 ? '' : format(datum.value, '.1f')"}},
    "y": {"field": "y", "type": "quantitative", "scale": {"domain": [0, 2.4], "nice": false, "zero": false}, "axis": {"orient": "left", "values": [0,0.5,1,1.5,2], "labelExpr": "datum.value == 0 ? '' : format(datum.value, '.1f')",
      "title": "Standard deviation (normalized)", "titleX": -48, "titleY": -55, "titleAngle": -90, "titleAlign": "center", "titleBaseline": "alphabetic"}},
    "color": {"field": "c", "type": "nominal", "scale": {"domain": ["Extremely polluted air", "Polluted air", "Low pollution", "Fairly clean air"], "range": ["#FF0000", "#FFA500", "#FFD700", "#00FF00"]}, "legend": null},
    "shape": {"field": "c", "type": "nominal", "scale": {"domain": ["Extremely polluted air", "Polluted air", "Low pollution", "Fairly clean air"], "range": ["diamond", "triangle-up", "circle", "square"]}, "legend": null}}},
  {"data": {"name": "titles"}, "transform": [{"filter": "datum.p == 'd' && datum.part == 'pre'"}], "mark": {"type": "text", "align": "left", "baseline": "alphabetic", "fontSize": 15, "color": "black"},
   "encoding": {"x": {"field": "x", "type": "quantitative", "scale": {"domain": [0, 2.4], "nice": false, "zero": false}, "axis": {"orient": "top", "labels": false, "title": null, "values": [0,0.5,1,1.5,2]}},
    "y": {"field": "y", "type": "quantitative", "scale": {"domain": [0, 2.4], "nice": false, "zero": false}, "axis": {"orient": "right", "labels": false, "title": null, "values": [0,0.5,1,1.5,2]}}, "text": {"field": "t"}}},
  {"data": {"name": "titles"}, "transform": [{"filter": "datum.p == 'd' && datum.part == 'sym'"}], "mark": {"type": "text", "align": "left", "baseline": "alphabetic", "fontSize": 15, "fontStyle": "italic", "color": "black"},
   "encoding": {"x": {"field": "x", "type": "quantitative", "scale": {"domain": [0, 2.4], "nice": false, "zero": false}, "axis": null},
    "y": {"field": "y", "type": "quantitative", "scale": {"domain": [0, 2.4], "nice": false, "zero": false}, "axis": null}, "text": {"field": "t"}}},
  {"data": {"name": "titles"}, "transform": [{"filter": "datum.p == 'd' && datum.part == 'sub'"}], "mark": {"type": "text", "align": "left", "baseline": "alphabetic", "fontSize": 10.5, "fontStyle": "italic", "color": "black"},
   "encoding": {"x": {"field": "x", "type": "quantitative", "scale": {"domain": [0, 2.4], "nice": false, "zero": false}, "axis": null},
    "y": {"field": "y", "type": "quantitative", "scale": {"domain": [0, 2.4], "nice": false, "zero": false}, "axis": null}, "text": {"field": "t"}}}
 ]},
{"width": 242, "height": 242,
 "resolve": {"scale": {"x": "independent", "y": "independent"}, "axis": {"x": "independent", "y": "independent"}},
 "layer": [
  {"data": {"name": "rays"}, "mark": {"type": "rule", "color": "#c8c8c8", "strokeWidth": 0.8},
   "encoding": {"x": {"field": "x0", "type": "quantitative", "scale": {"domain": [0, 1.1222], "nice": false, "zero": false}, "axis": null},
    "y": {"field": "y0", "type": "quantitative", "scale": {"domain": [0, 1.1222], "nice": false, "zero": false}, "axis": null},
    "x2": {"field": "x1"}, "y2": {"field": "y1"}}},
  {"data": {"name": "circ"}, "transform": [{"filter": "datum.p == 'e'"}], "mark": {"type": "point", "shape": "circle", "filled": false, "color": "#B8860B", "strokeWidth": 1, "strokeDash": [5, 3], "opacity": 1, "clip": true},
   "encoding": {"x": {"datum": 1, "type": "quantitative", "scale": {"domain": [0, 1.579], "nice": false, "zero": false}, "axis": null},
    "y": {"datum": 0, "type": "quantitative", "scale": {"domain": [0, 1.579], "nice": false, "zero": false}, "axis": null},
    "size": {"field": "rho", "type": "quantitative", "scale": {"type": "pow", "exponent": 2, "domain": [0, 1.579], "range": [0, 234256]}, "legend": null}}},
  {"data": {"values": [{"rho": 1}]}, "mark": {"type": "point", "shape": "circle", "filled": false, "color": "black", "strokeWidth": 1, "strokeDash": [5, 3], "opacity": 1, "clip": true},
   "encoding": {"x": {"datum": 0, "type": "quantitative", "scale": {"domain": [0, 1.579], "nice": false, "zero": false}, "axis": null},
    "y": {"datum": 0, "type": "quantitative", "scale": {"domain": [0, 1.579], "nice": false, "zero": false}, "axis": null},
    "size": {"field": "rho", "type": "quantitative", "legend": null}}},
  {"data": {"name": "bnd"}, "transform": [{"filter": "datum.p == 'e'"}], "mark": {"type": "point", "shape": "circle", "filled": false, "color": "white", "strokeWidth": 700, "opacity": 1, "clip": true},
   "encoding": {"x": {"datum": 0, "type": "quantitative", "scale": {"domain": [0, 1.579], "nice": false, "zero": false}, "axis": null},
    "y": {"datum": 0, "type": "quantitative", "scale": {"domain": [0, 1.579], "nice": false, "zero": false}, "axis": null},
    "size": {"field": "Mm", "type": "quantitative", "legend": null}}},
  {"data": {"name": "bnd"}, "transform": [{"filter": "datum.p == 'e'"}], "mark": {"type": "point", "shape": "circle", "filled": false, "color": "black", "strokeWidth": 1.1, "opacity": 1, "clip": true},
   "encoding": {"x": {"datum": 0, "type": "quantitative", "scale": {"domain": [0, 1.579], "nice": false, "zero": false}, "axis": null},
    "y": {"datum": 0, "type": "quantitative", "scale": {"domain": [0, 1.579], "nice": false, "zero": false}, "axis": null},
    "size": {"field": "M", "type": "quantitative", "legend": null}}},
  {"data": {"name": "ticks"}, "mark": {"type": "rule", "color": "black", "strokeWidth": 1},
   "encoding": {"x": {"field": "x0", "type": "quantitative", "scale": {"domain": [0, 1.1222], "nice": false, "zero": false}, "axis": null},
    "y": {"field": "y0", "type": "quantitative", "scale": {"domain": [0, 1.1222], "nice": false, "zero": false}, "axis": null},
    "x2": {"field": "x1"}, "y2": {"field": "y1"}}},
  {"data": {"name": "clabs"}, "mark": {"type": "text", "align": "left", "baseline": "middle", "fontSize": 15, "color": "black"},
   "encoding": {"x": {"field": "x", "type": "quantitative", "scale": {"domain": [0, 1.1222], "nice": false, "zero": false}, "axis": null},
    "y": {"field": "y", "type": "quantitative", "scale": {"domain": [0, 1.1222], "nice": false, "zero": false}, "axis": null},
    "angle": {"field": "phi", "type": "quantitative", "scale": {"domain": [0, 90], "range": [0, -90]}},
    "text": {"field": "t"}}},
  {"data": {"name": "corr"}, "mark": {"type": "text", "align": "center", "baseline": "middle", "fontSize": 15, "angle": 45, "color": "black"},
   "encoding": {"x": {"field": "x", "type": "quantitative", "scale": {"domain": [0, 1.1222], "nice": false, "zero": false}, "axis": null},
    "y": {"field": "y", "type": "quantitative", "scale": {"domain": [0, 1.1222], "nice": false, "zero": false}, "axis": null},
    "text": {"field": "t"}}},
  {"data": {"name": "nlab"}, "transform": [{"filter": "datum.p == 'e'"}], "mark": {"type": "text", "align": "center", "baseline": "middle", "fontSize": 14, "fontWeight": "bold", "color": "#B8860B"},
   "encoding": {"x": {"field": "x", "type": "quantitative", "scale": {"domain": [0, 1.579], "nice": false, "zero": false}, "axis": null},
    "y": {"field": "y", "type": "quantitative", "scale": {"domain": [0, 1.579], "nice": false, "zero": false}, "axis": null}, "text": {"field": "lab"}}},
  {"data": {"values": [{"t": "observed"}]}, "mark": {"type": "circle", "color": "#A020F0", "size": 45, "opacity": 1, "clip": true},
   "encoding": {"x": {"datum": 1, "type": "quantitative", "scale": {"domain": [0, 1.579], "nice": false, "zero": false}, "axis": null},
    "y": {"datum": 0, "type": "quantitative", "scale": {"domain": [0, 1.579], "nice": false, "zero": false}, "axis": null}}},
  {"data": {"values": [{"t": "observed"}]}, "mark": {"type": "text", "color": "#A020F0", "fontSize": 14.5, "dy": -13, "align": "center", "baseline": "middle"},
   "encoding": {"x": {"datum": 1, "type": "quantitative", "scale": {"domain": [0, 1.579], "nice": false, "zero": false}, "axis": null},
    "y": {"datum": 0, "type": "quantitative", "scale": {"domain": [0, 1.579], "nice": false, "zero": false}, "axis": null}, "text": {"field": "t"}}},
  {"data": {"name": "pts"}, "transform": [{"filter": "datum.p == 'e'"}], "mark": {"type": "point", "filled": true, "size": 150, "opacity": 1, "strokeWidth": 0},
   "encoding": {"x": {"field": "x", "type": "quantitative", "scale": {"domain": [0, 1.579], "nice": false, "zero": false}, "axis": {"orient": "bottom", "values": [0,0.5,1,1.5], "labelExpr": "datum.value == 0 ? '' : format(datum.value, '.1f')",
      "title": "Standard deviation (normalized)", "titleX": 116, "titleY": 46, "titleAngle": 0, "titleAlign": "center", "titleBaseline": "alphabetic"}},
    "y": {"field": "y", "type": "quantitative", "scale": {"domain": [0, 1.579], "nice": false, "zero": false}, "axis": {"orient": "left", "title": null, "values": [0,0.5,1,1.5], "labelExpr": "datum.value == 0 ? '' : format(datum.value, '.1f')"}},
    "color": {"field": "c", "type": "nominal", "scale": {"domain": ["Extremely polluted air", "Polluted air", "Low pollution", "Fairly clean air"], "range": ["#FF0000", "#FFA500", "#FFD700", "#00FF00"]}, "legend": null},
    "shape": {"field": "c", "type": "nominal", "scale": {"domain": ["Extremely polluted air", "Polluted air", "Low pollution", "Fairly clean air"], "range": ["diamond", "triangle-up", "circle", "square"]}, "legend": null}}},
  {"data": {"name": "titles"}, "transform": [{"filter": "datum.p == 'e' && datum.part == 'pre'"}], "mark": {"type": "text", "align": "left", "baseline": "alphabetic", "fontSize": 15, "color": "black"},
   "encoding": {"x": {"field": "x", "type": "quantitative", "scale": {"domain": [0, 1.579], "nice": false, "zero": false}, "axis": {"orient": "top", "labels": false, "title": null, "values": [0,0.5,1,1.5]}},
    "y": {"field": "y", "type": "quantitative", "scale": {"domain": [0, 1.579], "nice": false, "zero": false}, "axis": {"orient": "right", "labels": false, "title": null, "values": [0,0.5,1,1.5]}}, "text": {"field": "t"}}},
  {"data": {"name": "titles"}, "transform": [{"filter": "datum.p == 'e' && datum.part == 'sym'"}], "mark": {"type": "text", "align": "left", "baseline": "alphabetic", "fontSize": 15, "fontStyle": "italic", "color": "black"},
   "encoding": {"x": {"field": "x", "type": "quantitative", "scale": {"domain": [0, 1.579], "nice": false, "zero": false}, "axis": null},
    "y": {"field": "y", "type": "quantitative", "scale": {"domain": [0, 1.579], "nice": false, "zero": false}, "axis": null}, "text": {"field": "t"}}},
  {"data": {"name": "titles"}, "transform": [{"filter": "datum.p == 'e' && datum.part == 'sub'"}], "mark": {"type": "text", "align": "left", "baseline": "alphabetic", "fontSize": 10.5, "fontStyle": "italic", "color": "black"},
   "encoding": {"x": {"field": "x", "type": "quantitative", "scale": {"domain": [0, 1.579], "nice": false, "zero": false}, "axis": null},
    "y": {"field": "y", "type": "quantitative", "scale": {"domain": [0, 1.579], "nice": false, "zero": false}, "axis": null}, "text": {"field": "t"}}}
 ]},
{"width": 235, "height": 242,
 "resolve": {"scale": {"x": "independent", "y": "independent"}, "axis": {"x": "independent", "y": "independent"}},
 "layer": [
  {"data": {"name": "rays"}, "mark": {"type": "rule", "color": "#c8c8c8", "strokeWidth": 0.8},
   "encoding": {"x": {"field": "x0", "type": "quantitative", "scale": {"domain": [0, 1.0897], "nice": false, "zero": false}, "axis": null},
    "y": {"field": "y0", "type": "quantitative", "scale": {"domain": [0, 1.1221], "nice": false, "zero": false}, "axis": null},
    "x2": {"field": "x1"}, "y2": {"field": "y1"}}},
  {"data": {"name": "circ"}, "transform": [{"filter": "datum.p == 'f'"}], "mark": {"type": "point", "shape": "circle", "filled": false, "color": "#B8860B", "strokeWidth": 1, "strokeDash": [5, 3], "opacity": 1, "clip": true},
   "encoding": {"x": {"datum": 1, "type": "quantitative", "scale": {"domain": [0, 1.433], "nice": false, "zero": false}, "axis": null},
    "y": {"datum": 0, "type": "quantitative", "scale": {"domain": [0, 1.4756], "nice": false, "zero": false}, "axis": null},
    "size": {"field": "rho", "type": "quantitative", "scale": {"type": "pow", "exponent": 2, "domain": [0, 1.433], "range": [0, 220900]}, "legend": null}}},
  {"data": {"values": [{"rho": 1}]}, "mark": {"type": "point", "shape": "circle", "filled": false, "color": "black", "strokeWidth": 1, "strokeDash": [5, 3], "opacity": 1, "clip": true},
   "encoding": {"x": {"datum": 0, "type": "quantitative", "scale": {"domain": [0, 1.433], "nice": false, "zero": false}, "axis": null},
    "y": {"datum": 0, "type": "quantitative", "scale": {"domain": [0, 1.4756], "nice": false, "zero": false}, "axis": null},
    "size": {"field": "rho", "type": "quantitative", "legend": null}}},
  {"data": {"name": "bnd"}, "transform": [{"filter": "datum.p == 'f'"}], "mark": {"type": "point", "shape": "circle", "filled": false, "color": "white", "strokeWidth": 700, "opacity": 1, "clip": true},
   "encoding": {"x": {"datum": 0, "type": "quantitative", "scale": {"domain": [0, 1.433], "nice": false, "zero": false}, "axis": null},
    "y": {"datum": 0, "type": "quantitative", "scale": {"domain": [0, 1.4756], "nice": false, "zero": false}, "axis": null},
    "size": {"field": "Mm", "type": "quantitative", "legend": null}}},
  {"data": {"name": "bnd"}, "transform": [{"filter": "datum.p == 'f'"}], "mark": {"type": "point", "shape": "circle", "filled": false, "color": "black", "strokeWidth": 1.1, "opacity": 1, "clip": true},
   "encoding": {"x": {"datum": 0, "type": "quantitative", "scale": {"domain": [0, 1.433], "nice": false, "zero": false}, "axis": null},
    "y": {"datum": 0, "type": "quantitative", "scale": {"domain": [0, 1.4756], "nice": false, "zero": false}, "axis": null},
    "size": {"field": "M", "type": "quantitative", "legend": null}}},
  {"data": {"name": "ticks"}, "mark": {"type": "rule", "color": "black", "strokeWidth": 1},
   "encoding": {"x": {"field": "x0", "type": "quantitative", "scale": {"domain": [0, 1.0897], "nice": false, "zero": false}, "axis": null},
    "y": {"field": "y0", "type": "quantitative", "scale": {"domain": [0, 1.1221], "nice": false, "zero": false}, "axis": null},
    "x2": {"field": "x1"}, "y2": {"field": "y1"}}},
  {"data": {"name": "clabs"}, "mark": {"type": "text", "align": "left", "baseline": "middle", "fontSize": 15, "color": "black", "clip": true},
   "encoding": {"x": {"field": "x", "type": "quantitative", "scale": {"domain": [0, 1.0897], "nice": false, "zero": false}, "axis": null},
    "y": {"field": "y", "type": "quantitative", "scale": {"domain": [0, 1.1221], "nice": false, "zero": false}, "axis": null},
    "angle": {"field": "phi", "type": "quantitative", "scale": {"domain": [0, 90], "range": [0, -90]}},
    "text": {"field": "t"}}},
  {"data": {"name": "corr"}, "mark": {"type": "text", "align": "center", "baseline": "middle", "fontSize": 15, "angle": 45, "color": "black"},
   "encoding": {"x": {"field": "x", "type": "quantitative", "scale": {"domain": [0, 1.0897], "nice": false, "zero": false}, "axis": null},
    "y": {"field": "y", "type": "quantitative", "scale": {"domain": [0, 1.1221], "nice": false, "zero": false}, "axis": null},
    "text": {"field": "t"}}},
  {"data": {"name": "nlab"}, "transform": [{"filter": "datum.p == 'f'"}], "mark": {"type": "text", "align": "center", "baseline": "middle", "fontSize": 14, "fontWeight": "bold", "color": "#B8860B"},
   "encoding": {"x": {"field": "x", "type": "quantitative", "scale": {"domain": [0, 1.433], "nice": false, "zero": false}, "axis": null},
    "y": {"field": "y", "type": "quantitative", "scale": {"domain": [0, 1.4756], "nice": false, "zero": false}, "axis": null}, "text": {"field": "lab"}}},
  {"data": {"values": [{"t": "observed"}]}, "mark": {"type": "circle", "color": "#A020F0", "size": 45, "opacity": 1, "clip": true},
   "encoding": {"x": {"datum": 1, "type": "quantitative", "scale": {"domain": [0, 1.433], "nice": false, "zero": false}, "axis": null},
    "y": {"datum": 0, "type": "quantitative", "scale": {"domain": [0, 1.4756], "nice": false, "zero": false}, "axis": null}}},
  {"data": {"values": [{"t": "observed"}]}, "mark": {"type": "text", "color": "#A020F0", "fontSize": 14.5, "dy": -13, "align": "center", "baseline": "middle"},
   "encoding": {"x": {"datum": 1, "type": "quantitative", "scale": {"domain": [0, 1.433], "nice": false, "zero": false}, "axis": null},
    "y": {"datum": 0, "type": "quantitative", "scale": {"domain": [0, 1.4756], "nice": false, "zero": false}, "axis": null}, "text": {"field": "t"}}},
  {"data": {"name": "pts"}, "transform": [{"filter": "datum.p == 'f'"}], "mark": {"type": "point", "filled": true, "size": 150, "opacity": 1, "strokeWidth": 0},
   "encoding": {"x": {"field": "x", "type": "quantitative", "scale": {"domain": [0, 1.433], "nice": false, "zero": false}, "axis": {"orient": "bottom", "title": null, "values": [0,0.5,1], "labelExpr": "datum.value == 0 ? '' : format(datum.value, '.1f')"}},
    "y": {"field": "y", "type": "quantitative", "scale": {"domain": [0, 1.4756], "nice": false, "zero": false}, "axis": {"orient": "left", "title": null, "values": [0,0.5,1], "labelExpr": "datum.value == 0 ? '' : format(datum.value, '.1f')"}},
    "color": {"field": "c", "type": "nominal", "scale": {"domain": ["Extremely polluted air", "Polluted air", "Low pollution", "Fairly clean air"], "range": ["#FF0000", "#FFA500", "#FFD700", "#00FF00"]}, "legend": null},
    "shape": {"field": "c", "type": "nominal", "scale": {"domain": ["Extremely polluted air", "Polluted air", "Low pollution", "Fairly clean air"], "range": ["diamond", "triangle-up", "circle", "square"]}, "legend": null}}},
  {"data": {"name": "titles"}, "transform": [{"filter": "datum.p == 'f' && datum.part == 'pre'"}], "mark": {"type": "text", "align": "left", "baseline": "alphabetic", "fontSize": 15, "color": "black"},
   "encoding": {"x": {"field": "x", "type": "quantitative", "scale": {"domain": [0, 1.433], "nice": false, "zero": false}, "axis": {"orient": "top", "labels": false, "title": null, "values": [0,0.5,1]}},
    "y": {"field": "y", "type": "quantitative", "scale": {"domain": [0, 1.4756], "nice": false, "zero": false}, "axis": null}, "text": {"field": "t"}}},
  {"data": {"name": "titles"}, "transform": [{"filter": "datum.p == 'f' && datum.part == 'sym'"}], "mark": {"type": "text", "align": "left", "baseline": "alphabetic", "fontSize": 15, "fontStyle": "italic", "color": "black"},
   "encoding": {"x": {"field": "x", "type": "quantitative", "scale": {"domain": [0, 1.433], "nice": false, "zero": false}, "axis": null},
    "y": {"field": "y", "type": "quantitative", "scale": {"domain": [0, 1.4756], "nice": false, "zero": false}, "axis": null}, "text": {"field": "t"}}},
  {"data": {"name": "titles"}, "transform": [{"filter": "datum.p == 'f' && datum.part == 'sub'"}], "mark": {"type": "text", "align": "left", "baseline": "alphabetic", "fontSize": 10.5, "fontStyle": "italic", "color": "black"},
   "encoding": {"x": {"field": "x", "type": "quantitative", "scale": {"domain": [0, 1.433], "nice": false, "zero": false}, "axis": null},
    "y": {"field": "y", "type": "quantitative", "scale": {"domain": [0, 1.4756], "nice": false, "zero": false}, "axis": null}, "text": {"field": "t"}}}
 ]}
],
"columns": 3,
"spacing": {"row": 57.5, "column": 48},
"bounds": "flush",
"resolve": {"scale": {"size": "independent"}},
"config": {
 "font": "Liberation Sans",
 "view": {"stroke": null},
 "axis": {"zindex": 1, "domainColor": "black", "domainWidth": 1, "tickColor": "black", "tickWidth": 1, "tickSize": 6, "labelFontSize": 15, "labelColor": "black", "labelFont": "Liberation Sans", "labelPadding": 4, "grid": false, "labelFlush": false, "labelOverlap": false, "titleFontSize": 21, "titleFontWeight": "normal", "titleColor": "black", "titleFont": "Liberation Sans"},
 "text": {"font": "Liberation Sans"}
}
}
